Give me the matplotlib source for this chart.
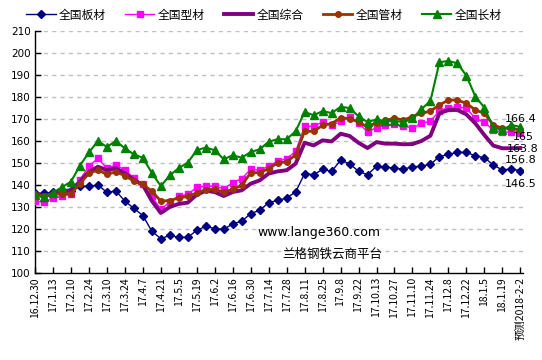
import matplotlib
matplotlib.use("Agg")
import matplotlib.pyplot as plt
import numpy as np

plt.rcParams['font.family'] = ['Noto Sans CJK SC', 'DejaVu Sans']

labels = ["16.12.30", "17.1.6", "17.1.13", "17.1.20", "17.2.10", "17.2.17", "17.2.24", "17.3.3",
          "17.3.10", "17.3.17", "17.3.24", "17.3.31", "17.4.7", "17.4.14", "17.4.21", "17.4.28",
          "17.5.5", "17.5.12", "17.5.19", "17.5.26", "17.6.2", "17.6.9", "17.6.16", "17.6.23",
          "17.6.30", "17.7.7", "17.7.14", "17.7.21", "17.7.28", "17.8.4", "17.8.11", "17.8.18",
          "17.8.25", "17.9.1", "17.9.8", "17.9.15", "17.9.22", "17.9.29", "17.10.13", "17.10.20",
          "17.10.27", "17.11.3", "17.11.10", "17.11.17", "17.11.24", "17.12.1", "17.12.8", "17.12.15",
          "17.12.22", "17.12.29", "18.1.5", "18.1.12", "18.1.19", "18.1.26", "预测2018-2-2"]

banchai = [136.2, 136.2, 136.7, 137.3, 137.3, 139.4, 139.4, 140.0, 136.7, 137.3, 132.7, 129.4, 126.1, 119.0,
           115.6, 117.1, 116.2, 116.2, 119.4, 121.2, 120.2, 119.8, 122.4, 123.5, 127.0, 128.5, 132.0, 133.0,
           134.1, 136.8, 145.2, 144.7, 147.1, 146.2, 151.2, 149.7, 146.2, 144.7, 148.5, 148.2, 147.6, 147.3,
           148.2, 148.6, 149.4, 152.9, 153.9, 154.8, 154.8, 153.3, 152.4, 149.1, 146.8, 147.3, 146.5]
xingcai = [132.7, 132.1, 134.0, 134.9, 135.8, 142.4, 148.6, 152.1, 147.6, 149.1, 146.8, 143.3, 140.3, 134.8,
           128.9, 132.3, 134.8, 135.8, 138.9, 139.5, 139.4, 138.3, 141.1, 142.9, 147.1, 146.7, 148.6, 150.8,
           152.0, 155.3, 166.7, 166.7, 168.6, 167.1, 168.9, 170.9, 168.2, 164.1, 166.1, 167.1, 167.5, 167.0,
           165.8, 168.0, 169.1, 173.6, 175.2, 175.6, 174.8, 170.3, 168.5, 165.0, 163.9, 164.2, 163.8]
zonghe = [135.5, 135.0, 136.0, 137.0, 137.7, 141.5, 146.0, 148.3, 146.8, 147.6, 145.3, 142.3, 140.0, 132.8,
          127.3, 130.0, 131.4, 132.0, 135.6, 137.4, 136.8, 135.0, 136.8, 137.6, 140.6, 142.1, 145.2, 146.2,
          146.7, 149.7, 159.2, 158.0, 160.3, 159.8, 163.3, 162.3, 159.2, 156.8, 159.5, 158.8, 158.8, 158.5,
          158.6, 160.0, 162.4, 172.6, 174.1, 174.1, 172.1, 168.0, 162.7, 157.9, 156.7, 156.7, 156.8]
guancai = [135.8, 135.2, 135.8, 136.0, 136.1, 140.6, 145.3, 146.8, 144.8, 146.0, 144.2, 141.8, 140.3, 137.2,
           132.7, 132.9, 134.2, 134.8, 136.4, 137.9, 138.0, 136.8, 138.0, 139.8, 145.6, 145.6, 147.4, 150.1,
           150.5, 153.8, 164.4, 164.4, 167.1, 167.9, 170.5, 170.2, 168.6, 166.4, 168.3, 169.4, 170.4, 169.5,
           171.1, 172.6, 173.6, 176.4, 178.6, 178.6, 177.1, 174.1, 172.6, 167.3, 165.8, 165.8, 165.0]
changcai = [135.5, 134.4, 136.5, 139.0, 141.5, 148.8, 154.8, 160.0, 157.3, 160.0, 156.7, 153.9, 152.4, 145.5,
            139.5, 144.4, 147.7, 150.2, 155.8, 157.0, 155.8, 151.7, 153.5, 152.4, 155.0, 156.2, 159.7, 160.8,
            160.8, 164.4, 173.2, 171.7, 173.6, 172.7, 175.5, 175.0, 171.2, 168.6, 169.8, 168.9, 169.2, 168.5,
            170.3, 174.5, 178.2, 195.8, 196.4, 195.3, 189.7, 180.2, 175.2, 166.1, 165.0, 167.3, 166.4]

series_names = ["全国板材", "全国型材", "全国综合", "全国管材", "全国长材"]
series_vals = [banchai, xingcai, zonghe, guancai, changcai]
styles = [
    dict(color="#000080", lw=1.0, marker="D", ms=3.8),
    dict(color="#FF00FF", lw=1.0, marker="s", ms=4.5),
    dict(color="#800080", lw=2.8, marker=None, ms=0),
    dict(color="#993300", lw=2.0, marker="o", ms=4.0),
    dict(color="#008000", lw=1.5, marker="^", ms=5.2),
]
label_offsets = [(0, -13), (2, -16), (0, -12), (3, -7), (0, 8)]
draw_order = [0, 2, 1, 3, 4]

fig = plt.figure(figsize=(5.42, 3.6), dpi=100)
ax = fig.add_axes([35/542, 1-273/360, (523-35)/542, (273-31)/360])

x = np.arange(len(labels))
handles = {}
for k in draw_order:
    st = styles[k]
    h, = ax.plot(x, series_vals[k], color=st["color"], lw=st["lw"], marker=st["marker"],
                 ms=st["ms"], mec=st["color"], mfc=st["color"], label=series_names[k], zorder=3+k)
    handles[k] = h

for k in range(5):
    v = series_vals[k][-1]
    txt = ("%.1f" % v).rstrip("0").rstrip(".")
    ax.annotate(txt, (x[-1], v), xytext=label_offsets[k], textcoords="offset pixels",
                ha="center", va="center", fontsize=8, family="DejaVu Sans", color="black",
                zorder=10, annotation_clip=False)

ax.set_xlim(0, 54.3)
ax.set_ylim(100, 210)
ax.set_yticks(np.arange(100, 211, 10))
ax.set_xticks(x[::2])
ax.set_xticklabels(labels[::2], rotation=90, fontsize=7.5, va="top", ha="center")
for t in ax.get_xticklabels():
    t.set_family(['Noto Sans CJK SC', 'DejaVu Sans'])
ax.tick_params(axis="y", labelsize=7.5, direction="in", length=4, width=1, pad=3)
ax.tick_params(axis="x", direction="in", length=4, width=1, pad=3)
for t in ax.get_yticklabels():
    t.set_family("DejaVu Sans")
for g in np.arange(110, 211, 10):
    ax.axhline(g, color="#c0c0c0", lw=1, ls=(0, (3, 3)), zorder=1)
ax.spines["top"].set_visible(False)
ax.spines["right"].set_visible(False)
ax.spines["left"].set_linewidth(1)
ax.spines["bottom"].set_linewidth(1)

ax.text(0.582, 0.169, "www.lange360.com", transform=ax.transAxes, ha="center", va="center",
        fontsize=9, family="DejaVu Sans")
ax.text(0.609, 0.079, "兰格钢铁云商平台", transform=ax.transAxes, ha="center", va="center",
        fontsize=9)

fig.legend([handles[k] for k in range(5)], series_names, loc="center", bbox_to_anchor=(0.487, 1-15/360),
           ncol=5, frameon=False, fontsize=8.5, handlelength=2.5, columnspacing=1.6,
           handletextpad=0.3, borderaxespad=0)

fig.savefig("out.png", dpi=100)
